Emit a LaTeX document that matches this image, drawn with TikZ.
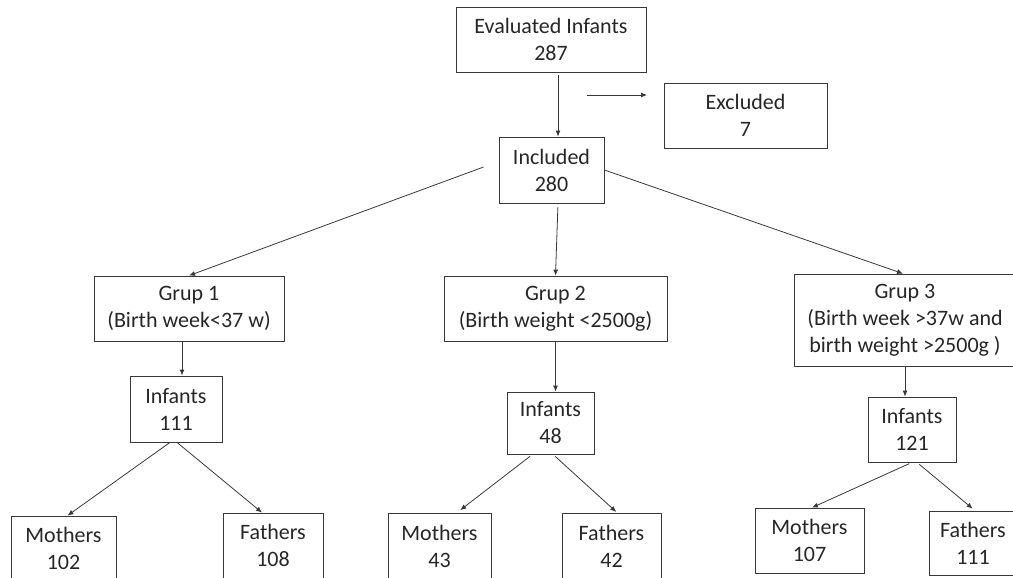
\documentclass[tikz,border=0pt]{standalone}
\usepackage{fontspec}
\setmainfont{Carlito}
\usetikzlibrary{arrows.meta}
\begin{document}
\begin{tikzpicture}[x=1pt,y=-1pt,
  box/.style={draw=black!78, line width=0.8pt, inner sep=0pt, align=center,
    text=black!85, font=\fontsize{22}{27}\selectfont},
  conn/.style={draw=black!78, line width=0.8pt, -{Latex[length=6pt,width=5pt]}}]
\path[use as bounding box] (0,0) rectangle (1013,578);
\clip (0,0) rectangle (1013,578);
\node[box, minimum width=190pt, minimum height=65pt] (eval) at (551,39.5) {Evaluated Infants\\287};
\node[box, minimum width=163pt, minimum height=65pt] (excl) at (745.5,115.5) {Excluded\\7};
\node[box, minimum width=105pt, minimum height=66pt] (incl) at (551.5,170) {Included\\280};
\node[box, minimum width=190pt, minimum height=65pt] (g1) at (189,308.5) {Grup 1\\(Birth week<37 w)};
\node[box, minimum width=223pt, minimum height=65pt] (g2) at (555.5,308.5) {Grup 2\\(Birth weight <2500g)};
\node[box, minimum width=222pt, minimum height=92pt] (g3) at (905,320) {Grup 3\\(Birth week >37w and\\birth weight >2500g )};
\node[box, minimum width=92pt, minimum height=66pt] (inf1) at (176,409) {Infants\\111};
\node[box, minimum width=87pt, minimum height=62pt] (inf2) at (550.5,423) {Infants\\48};
\node[box, minimum width=88pt, minimum height=65pt] (inf3) at (912,429.5) {Infants\\121};
\node[box, minimum width=105pt, minimum height=64pt] (m1) at (63.5,548) {Mothers\\102};
\node[box, minimum width=100pt, minimum height=65pt] (f1) at (273,545.5) {Fathers\\108};
\node[box, minimum width=103pt, minimum height=66pt] (m2) at (439.5,546) {Mothers\\43};
\node[box, minimum width=99pt, minimum height=66pt] (f2) at (611.5,546) {Fathers\\42};
\node[box, minimum width=109pt, minimum height=65pt] (m3) at (809.5,540.5) {Mothers\\107};
\node[box, minimum width=88pt, minimum height=64pt] (f3) at (973,543) {Fathers\\111};
\coordinate (exs) at (587,95);
\coordinate (exe) at (647,95);
\draw[conn] (exs) -- (exe);
\draw[conn, shorten <=3pt] ([xshift=7pt]eval.south) -- ([xshift=6.5pt]incl.north);
\draw[conn] ([shift={(-15pt,3pt)}]incl.west) -- (g1.north);
\draw[conn, shorten <=4pt] ([xshift=6.5pt]incl.south) -- (g2.north);
\draw[conn] (incl.east) -- ([xshift=-2pt]g3.north);
\draw[conn] ([xshift=-7pt]g1.south) -- ([xshift=6pt]inf1.north);
\draw[conn] (g2.south) -- ([xshift=5pt]inf2.north);
\draw[conn] (g3.south) -- (g3.south |- inf3.north);
\draw[conn] ([xshift=-6pt]inf1.south) -- ([xshift=4pt]m1.north);
\draw[conn] ([xshift=1pt]inf1.south) -- ([xshift=-11pt]f1.north);
\draw[conn, shorten <=3pt, shorten >=4pt] ([xshift=-18pt]inf2.south) -- ([xshift=17.5pt]m2.north);
\draw[conn, shorten <=3pt, shorten >=1pt] ([xshift=2.5pt]inf2.south) -- ([xshift=5.5pt]f2.north);
\draw[conn, shorten <=3pt] (inf3.south) -- ([xshift=2.5pt]m3.north);
\draw[conn, shorten <=3pt, shorten >=3pt] ([xshift=5pt]inf3.south) -- ([xshift=2pt]f3.north);
\end{tikzpicture}
\end{document}
